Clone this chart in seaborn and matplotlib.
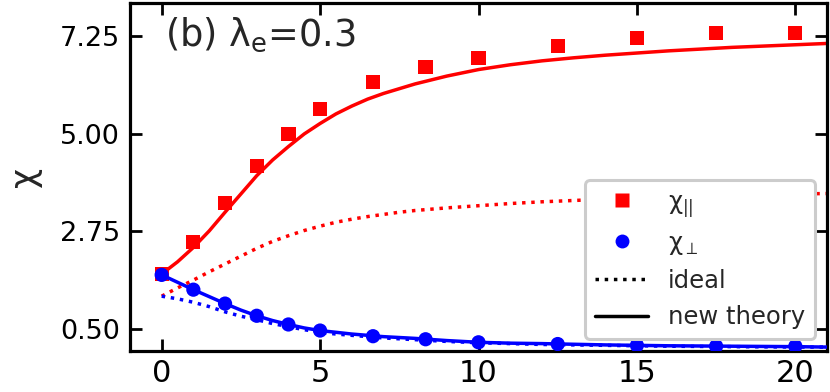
import numpy as np
import pandas as pd
import matplotlib
matplotlib.use("Agg")
import matplotlib.pyplot as plt
import seaborn as sns
from matplotlib.lines import Line2D

# ---- data ----
x_sim = [0, 1, 2, 3, 4, 5, 6.67, 8.33, 10, 12.5, 15, 17.5, 20]
chi_par = [1.77, 2.51, 3.40, 4.25, 4.99, 5.56, 6.18, 6.52, 6.74, 7.01, 7.20, 7.31, 7.31]
chi_perp = [1.75, 1.41, 1.09, 0.81, 0.61, 0.47, 0.34, 0.27, 0.20, 0.16, 0.13, 0.11, 0.11]

x_th = [0, 0.5, 1, 1.5, 2, 2.5, 3, 3.5, 4, 4.5, 5, 5.5, 6, 6.5, 7, 7.5, 8, 9, 10, 11, 12, 13,
        14, 15, 16, 17, 18, 19, 20, 21]
par_new = [1.77, 2.05, 2.38, 2.76, 3.19, 3.61, 4.03, 4.39, 4.70, 4.99, 5.23, 5.45, 5.63, 5.79,
           5.92, 6.03, 6.14, 6.32, 6.47, 6.58, 6.67, 6.74, 6.80, 6.85, 6.90, 6.94, 6.98,
           7.01, 7.04, 7.07]
par_ideal = [1.26, 1.45, 1.63, 1.82, 2.00, 2.18, 2.36, 2.52, 2.65, 2.77, 2.87, 2.96, 3.03, 3.09,
             3.14, 3.19, 3.23, 3.29, 3.34, 3.39, 3.43, 3.46, 3.49, 3.52, 3.54, 3.56, 3.58,
             3.60, 3.61, 3.62]
perp_new = [1.75, 1.58, 1.41, 1.25, 1.09, 0.94, 0.81, 0.70, 0.61, 0.53, 0.47, 0.43, 0.39, 0.36,
            0.33, 0.31, 0.29, 0.24, 0.20, 0.18, 0.17, 0.155, 0.14, 0.13, 0.12, 0.115, 0.11,
            0.105, 0.10, 0.09]
perp_ideal = [1.26, 1.20, 1.12, 1.02, 0.90, 0.80, 0.72, 0.63, 0.56, 0.49, 0.43, 0.39, 0.36, 0.33,
              0.30, 0.28, 0.26, 0.22, 0.19, 0.17, 0.15, 0.14, 0.13, 0.12, 0.11, 0.105, 0.10,
              0.095, 0.09, 0.09]

y_ticks = [0.50, 2.75, 5.00, 7.25]
x_ticks = [0, 5, 10, 15, 20]

sim = pd.DataFrame({"x": x_sim, "par": chi_par, "perp": chi_perp})
th = pd.DataFrame({"x": x_th, "par_new": par_new, "par_ideal": par_ideal,
                   "perp_new": perp_new, "perp_ideal": perp_ideal})

sns.set_theme(style="white")
plt.rcParams["font.family"] = ["DejaVu Sans"]
plt.rcParams["mathtext.fontset"] = "dejavusans"

fig = plt.figure(figsize=(8.3, 3.92), dpi=100)
ax = fig.add_axes([130 / 830, 1 - 351 / 392, 697 / 830, 348 / 392])

lw = 2.5
# red (parallel)
sns.scatterplot(data=sim, x="x", y="par", ax=ax, marker="s", s=105, color="red",
                edgecolor="none", zorder=3)
sns.lineplot(data=th, x="x", y="par_new", ax=ax, color="red", lw=lw, zorder=2)
sns.lineplot(data=th, x="x", y="par_ideal", ax=ax, color="red", lw=lw, ls=":", zorder=2)
# blue (perpendicular)
sns.scatterplot(data=sim, x="x", y="perp", ax=ax, marker="o", s=105, color="blue",
                edgecolor="none", zorder=4)
sns.lineplot(data=th, x="x", y="perp_new", ax=ax, color="blue", lw=lw, zorder=4)
sns.lineplot(data=th, x="x", y="perp_ideal", ax=ax, color="blue", lw=lw, ls=":", zorder=4)

ax.set_xlim(-1, 21)
ax.set_ylim(0, 8)
ax.set_xticks(x_ticks)
ax.set_yticks(y_ticks)
ax.set_yticklabels([f"{v:.2f}" for v in y_ticks])
ax.set_xlabel("")
ax.set_ylabel("χ", fontsize=25, labelpad=13)

for sp in ax.spines.values():
    sp.set_linewidth(2.3)
    sp.set_color("black")
ax.tick_params(axis="both", which="major", direction="in", length=8.5, width=2,
               top=True, right=True, bottom=True, left=True, colors="black")
ax.tick_params(axis="x", labelsize=22, pad=6)
ax.tick_params(axis="y", labelsize=19.5, pad=7)

ax.text(0.05, 0.965, r"(b) λ$_\mathregular{e}$=0.3", transform=ax.transAxes,
        fontsize=26.5, va="top", ha="left")

handles = [
    Line2D([], [], ls="none", marker="s", ms=10, color="red", mec="none"),
    Line2D([], [], ls="none", marker="o", ms=10, color="blue", mec="none"),
    Line2D([], [], ls=":", lw=lw, color="black"),
    Line2D([], [], ls="-", lw=lw, color="black"),
]
labels = [r"χ$_{||}$", r"χ$_{\perp}$", "ideal", "new theory"]
leg = ax.legend(handles, labels, loc="lower right", fontsize=17.5, framealpha=1,
                edgecolor="0.8", fancybox=True, handlelength=2.2, labelspacing=0.5,
                borderaxespad=0.5)
leg.get_frame().set_linewidth(2.2)
leg.set_zorder(10)

fig.savefig("out.png", dpi=100)
